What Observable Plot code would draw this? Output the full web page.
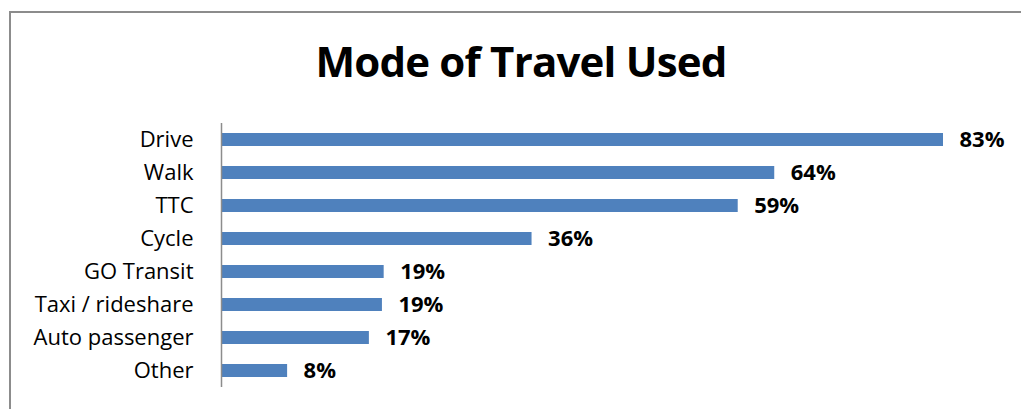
<!DOCTYPE html>
<html>
<head>
<meta charset="utf-8">
<script src="https://cdn.jsdelivr.net/npm/d3@7"></script>
<script src="https://cdn.jsdelivr.net/npm/@observablehq/plot@0.6"></script>
<style>
  html, body { margin: 0; padding: 0; background: #fff; }
  #wrap { position: relative; width: 1021px; height: 409px; overflow: hidden; font-family: "Open Sans", sans-serif; }
  #frame { position: absolute; left: 9px; top: 11px; width: 1040px; height: 420px; border-left: 2px solid #8c8c8c; border-top: 2px solid #8c8c8c; box-sizing: border-box; }
  #title { position: absolute; left: 0; top: 31px; width: 1042px; text-align: center; font-weight: 700; font-size: 42px; color: #000; line-height: 60px; letter-spacing: -0.8px; }
  #chart { position: absolute; left: 0; top: 100px; }
</style>
</head>
<body>
<div id="wrap">
  <div id="frame"></div>
  <div id="title">Mode of Travel Used</div>
  <div id="chart"></div>
</div>
<script>
const modes = ["Drive", "Walk", "TTC", "Cycle", "GO Transit", "Taxi / rideshare", "Auto passenger", "Other"];
const shares = [83.0, 63.6, 59.4, 35.7, 18.7, 18.5, 17.0, 7.6];

const data = modes.map((m, i) => ({mode: m, value: shares[i], label: Math.round(shares[i]) + "%"}));

const chart = Plot.plot({
  width: 1021,
  height: 309,
  marginLeft: 221,
  marginRight: 78,
  marginTop: 23,
  marginBottom: 22,
  style: {fontFamily: "'Open Sans', sans-serif", background: "transparent"},
  x: {domain: [0, 83], axis: null},
  y: {domain: modes, paddingInner: 0.6, paddingOuter: 0.3, label: null},
  marks: [
    Plot.barX(data, {x: "value", y: "mode", fill: "#4F81BD", insetLeft: 1}),
    Plot.ruleX([0], {stroke: "#8c8c8c", strokeWidth: 1.5}),
    Plot.axisY({tickSize: 0, tickPadding: 28, fontSize: 22, fill: "#000", label: null}),
    Plot.text(data, {x: "value", y: "mode", text: "label", dx: 16, textAnchor: "start", fontWeight: "bold", fontSize: 22, fill: "#000"})
  ]
});
document.getElementById("chart").appendChild(chart);
</script>
</body>
</html>
